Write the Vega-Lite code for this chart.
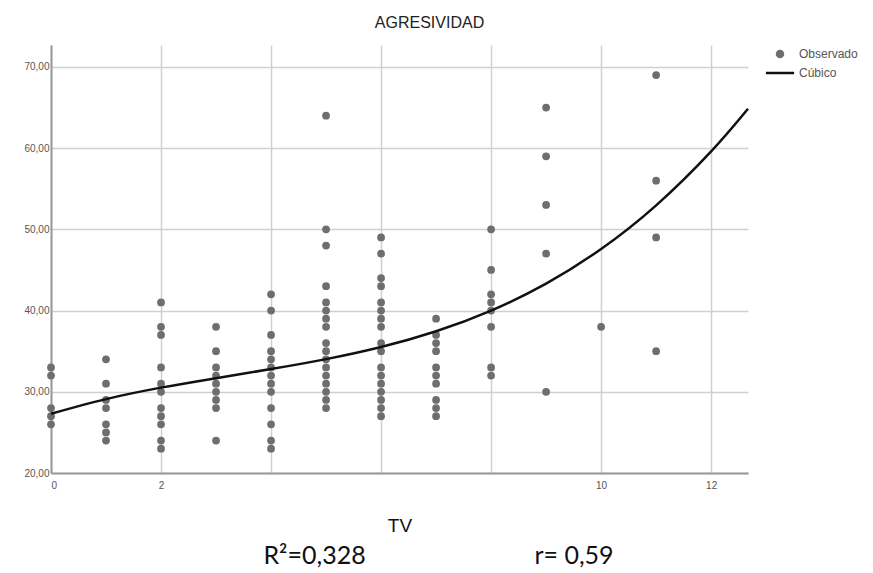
{
  "$schema": "https://vega.github.io/schema/vega-lite/v6.json",
  "width": 697,
  "height": 428,
  "autosize": "none",
  "padding": {"left": 51, "top": 45, "right": 125, "bottom": 100},
  "background": "white",
  "title": {"text": "AGRESIVIDAD", "font": "Liberation Sans", "fontSize": 16, "fontWeight": "normal", "color": "#222", "anchor": "middle", "dx": 30, "offset": 14},
  "config": {"view": {"stroke": null}},
  "resolve": {"axis": {"x": "independent"}},
  "datasets": {
    "obs": [
      {"TV": 0, "AGR": 33}, {"TV": 0, "AGR": 32}, {"TV": 0, "AGR": 28}, {"TV": 0, "AGR": 27}, {"TV": 0, "AGR": 26},
      {"TV": 1, "AGR": 34}, {"TV": 1, "AGR": 31}, {"TV": 1, "AGR": 29}, {"TV": 1, "AGR": 28}, {"TV": 1, "AGR": 26}, {"TV": 1, "AGR": 25}, {"TV": 1, "AGR": 24},
      {"TV": 2, "AGR": 41}, {"TV": 2, "AGR": 38}, {"TV": 2, "AGR": 37}, {"TV": 2, "AGR": 33}, {"TV": 2, "AGR": 31}, {"TV": 2, "AGR": 30}, {"TV": 2, "AGR": 28}, {"TV": 2, "AGR": 27}, {"TV": 2, "AGR": 26}, {"TV": 2, "AGR": 24}, {"TV": 2, "AGR": 23},
      {"TV": 3, "AGR": 38}, {"TV": 3, "AGR": 35}, {"TV": 3, "AGR": 33}, {"TV": 3, "AGR": 32}, {"TV": 3, "AGR": 31}, {"TV": 3, "AGR": 30}, {"TV": 3, "AGR": 29}, {"TV": 3, "AGR": 28}, {"TV": 3, "AGR": 24},
      {"TV": 4, "AGR": 42}, {"TV": 4, "AGR": 40}, {"TV": 4, "AGR": 37}, {"TV": 4, "AGR": 35}, {"TV": 4, "AGR": 34}, {"TV": 4, "AGR": 33}, {"TV": 4, "AGR": 32}, {"TV": 4, "AGR": 31}, {"TV": 4, "AGR": 30}, {"TV": 4, "AGR": 28}, {"TV": 4, "AGR": 26}, {"TV": 4, "AGR": 24}, {"TV": 4, "AGR": 23},
      {"TV": 5, "AGR": 64}, {"TV": 5, "AGR": 50}, {"TV": 5, "AGR": 48}, {"TV": 5, "AGR": 43}, {"TV": 5, "AGR": 41}, {"TV": 5, "AGR": 40}, {"TV": 5, "AGR": 39}, {"TV": 5, "AGR": 38}, {"TV": 5, "AGR": 36}, {"TV": 5, "AGR": 35}, {"TV": 5, "AGR": 34}, {"TV": 5, "AGR": 33}, {"TV": 5, "AGR": 32}, {"TV": 5, "AGR": 31}, {"TV": 5, "AGR": 30}, {"TV": 5, "AGR": 29}, {"TV": 5, "AGR": 28},
      {"TV": 6, "AGR": 49}, {"TV": 6, "AGR": 47}, {"TV": 6, "AGR": 44}, {"TV": 6, "AGR": 43}, {"TV": 6, "AGR": 41}, {"TV": 6, "AGR": 40}, {"TV": 6, "AGR": 39}, {"TV": 6, "AGR": 38}, {"TV": 6, "AGR": 36}, {"TV": 6, "AGR": 35}, {"TV": 6, "AGR": 33}, {"TV": 6, "AGR": 32}, {"TV": 6, "AGR": 31}, {"TV": 6, "AGR": 30}, {"TV": 6, "AGR": 29}, {"TV": 6, "AGR": 28}, {"TV": 6, "AGR": 27},
      {"TV": 7, "AGR": 39}, {"TV": 7, "AGR": 37}, {"TV": 7, "AGR": 36}, {"TV": 7, "AGR": 35}, {"TV": 7, "AGR": 33}, {"TV": 7, "AGR": 32}, {"TV": 7, "AGR": 31}, {"TV": 7, "AGR": 29}, {"TV": 7, "AGR": 28}, {"TV": 7, "AGR": 27},
      {"TV": 8, "AGR": 50}, {"TV": 8, "AGR": 45}, {"TV": 8, "AGR": 42}, {"TV": 8, "AGR": 41}, {"TV": 8, "AGR": 40}, {"TV": 8, "AGR": 38}, {"TV": 8, "AGR": 33}, {"TV": 8, "AGR": 32},
      {"TV": 9, "AGR": 65}, {"TV": 9, "AGR": 59}, {"TV": 9, "AGR": 53}, {"TV": 9, "AGR": 47}, {"TV": 9, "AGR": 30},
      {"TV": 10, "AGR": 38},
      {"TV": 11, "AGR": 69}, {"TV": 11, "AGR": 56}, {"TV": 11, "AGR": 49}, {"TV": 11, "AGR": 35}
    ],
    "fit": [
      {"TV": 0, "AGR": 27.3}, {"TV": 1, "AGR": 29.1}, {"TV": 2, "AGR": 30.51}, {"TV": 3, "AGR": 31.68},
      {"TV": 4, "AGR": 32.8}, {"TV": 5, "AGR": 34.02}, {"TV": 6, "AGR": 35.51}, {"TV": 7, "AGR": 37.45},
      {"TV": 8, "AGR": 40.0}, {"TV": 9, "AGR": 43.32}, {"TV": 10, "AGR": 47.58}, {"TV": 11, "AGR": 52.95},
      {"TV": 12, "AGR": 59.6}, {"TV": 12.67, "AGR": 64.85}
    ]
  },
  "encoding": {
    "x": {"field": "TV", "type": "quantitative", "scale": {"domain": [0, 12.67], "nice": false, "zero": false},
      "axis": {"orient": "bottom", "values": [0, 2, 4, 6, 8, 10, 12], "labelExpr": "datum.value == 4 || datum.value == 6 || datum.value == 8 ? '' : datum.label",
        "title": "TV", "titleFont": "Liberation Sans", "titleFontSize": 19, "titleFontWeight": "normal", "titleColor": "#111", "titlePadding": 26,
        "labelFont": "Liberation Sans", "labelFontSize": 10, "labelColor": "#555", "labelPadding": 7, "ticks": false,
        "domainColor": "#999", "domainWidth": 2, "gridColor": "#d0d0d0", "gridWidth": 1.5}},
    "y": {"field": "AGR", "type": "quantitative", "scale": {"domain": [20, 72.7], "nice": false, "zero": false},
      "axis": {"values": [20, 30, 40, 50, 60, 70], "labelExpr": "replace(format(datum.value, '.2f'), '.', ',')", "title": null,
        "labelFont": "Liberation Sans", "labelFontSize": 10, "labelColor": "#555", "labelPadding": 2, "ticks": false,
        "domainColor": "#999", "domainWidth": 2, "gridColor": "#d0d0d0", "gridWidth": 1.5}}
  },
  "layer": [
    {
      "data": {"name": "obs"},
      "transform": [{"calculate": "'Observado'", "as": "serie"}],
      "mark": {"type": "point", "filled": true, "size": 60, "opacity": 1},
      "encoding": {
        "color": {"field": "serie", "type": "nominal", "scale": {"domain": ["Observado", "Cúbico"], "range": ["#6e6e6e", "#111111"]},
          "legend": {"title": null, "orient": "right", "offset": 18, "padding": 3, "labelFont": "Liberation Sans", "labelFontSize": 12, "labelColor": "#555", "symbolSize": 36, "rowPadding": 5, "labelOffset": 13, "symbolStrokeWidth": 2.5}},
        "shape": {"field": "serie", "type": "nominal", "scale": {"domain": ["Observado", "Cúbico"], "range": ["circle", "M-4.7,0H4.7"]}, "legend": {"title": null}}
      }
    },
    {
      "data": {"name": "fit"},
      "transform": [{"calculate": "'Cúbico'", "as": "serie"}],
      "mark": {"type": "line", "strokeWidth": 2.5, "interpolate": "natural"},
      "encoding": {
        "x": {"field": "TV", "type": "quantitative",
          "axis": {"orient": "bottom", "labels": false, "ticks": false, "domain": false, "grid": false,
            "title": "R²=0,328\u2003\u2003\u2003\u2003\u2003\u2003\u2003\u2003\u2003r= 0,59", "titleFont": "Lato", "titleFontSize": 25, "titleFontWeight": "normal", "titleColor": "#111", "titlePadding": 70, "titleX": 387}},
        "color": {"field": "serie", "type": "nominal"}
      }
    }
  ]
}
